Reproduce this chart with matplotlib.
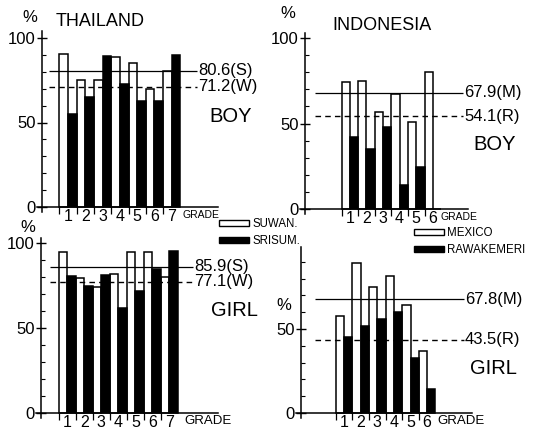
import numpy as np
import matplotlib.pyplot as plt
from matplotlib.patches import Patch

plt.rcParams['font.family'] = ['Liberation Sans', 'DejaVu Sans']

W, H = 540, 433

grades_th = [1, 2, 3, 4, 5, 6, 7]
grades_id = [1, 2, 3, 4, 5, 6]

# Thailand (% per grade)
suwan_boy = [90.5, 75.0, 75.0, 89.0, 85.0, 70.0, 80.5]
srisum_boy = [55.0, 65.0, 89.5, 73.0, 63.0, 62.5, 90.0]
suwan_girl = [94.5, 79.5, 74.0, 81.5, 94.5, 94.5, 80.0]
srisum_girl = [80.5, 74.5, 81.0, 62.0, 72.0, 84.5, 95.5]

# Indonesia (% per grade)
mexico_boy = [74.0, 75.0, 56.5, 67.5, 51.0, 80.0]
rawak_boy = [42.0, 35.0, 48.0, 14.0, 24.5, 0.0]
mexico_girl = [58.0, 89.5, 75.0, 81.5, 64.0, 37.0]
rawak_girl = [45.5, 52.0, 56.0, 60.0, 33.0, 14.0]

# mean lines (solid, dashed) and their tags
mean_th_boy = [80.6, 71.2]
mean_th_girl = [85.9, 77.1]
mean_id_boy = [67.9, 54.1]
mean_id_girl = [67.8, 43.5]
tags_th = ['S', 'W']
tags_id = ['M', 'R']

fig = plt.figure(figsize=(5.4, 4.33), dpi=100)


def ftext(x, y, s, **kw):
    # text placed in pixel coordinates of the figure
    fig.text(x / W, 1 - y / H, s, **kw)


def panel(x0, y0, bw, ys, offset, grades, white, black, means, tags,
          line_from, line_to, axis_end, grade_x, grade_fs, yt, ytop):
    padl, padr, padb, padt = 45, 235, 25, 190
    ax = fig.add_axes([(x0 - padl) / W, (H - y0 - padb) / H,
                       (padl + padr) / W, (padb + padt) / H])
    ax.patch.set_visible(False)
    ax.set_xlim(-padl / bw, padr / bw)
    ax.set_ylim(-padb / ys, padt / ys)

    g = np.array(grades)
    left = offset + 2 * (g - 1)
    ax.bar(left, white, width=1, align='edge', facecolor='white',
           edgecolor='black', lw=1.1, zorder=2)
    ax.bar(left + 1, black, width=1, align='edge', facecolor='black',
           edgecolor='black', lw=1.1, zorder=3)

    ax.hlines(means[0], line_from, line_to, color='black', lw=0.9, zorder=4)
    ax.hlines(means[1], line_from, line_to, color='black', lw=1.0,
              linestyles=(0, (4, 3)), zorder=4)
    for m, t in zip(means, tags):
        ax.text(line_to + 0.15, m, f'{m}({t})', va='center', ha='left',
                fontsize=12)

    for s in ['top', 'right']:
        ax.spines[s].set_visible(False)
    ax.spines['left'].set_position(('data', 0))
    ax.spines['bottom'].set_position(('data', 0))
    ax.spines['left'].set_bounds(-3, ytop)
    ax.spines['bottom'].set_bounds(-0.6, axis_end)
    ax.spines['left'].set_linewidth(1.1)
    ax.spines['bottom'].set_linewidth(1.1)

    ax.set_yticks(yt)
    ax.set_yticklabels([str(v) for v in yt], fontsize=12)
    ax.set_yticks([v for v in range(10, 100, 10) if v != 50], minor=True)
    ax.tick_params(axis='y', which='major', direction='inout', length=7,
                   width=1, pad=1)
    ax.tick_params(axis='y', which='minor', direction='in', length=3,
                   width=0.8)

    ax.set_xticks(left + 1)
    ax.set_xticklabels([str(v) for v in grades], fontsize=11.5)
    ax.set_xticks(left, minor=True)
    ax.tick_params(axis='x', which='major', length=0, pad=1.5)
    ax.tick_params(axis='x', which='minor', direction='out', length=5,
                   width=0.9)

    ax.text(grade_x, -2.5 / ys, 'GRADE', ha='left', va='top',
            fontsize=grade_fs)
    return ax


# THAILAND boy
panel(42, 207, 8.65, 1.69, 2.0, grades_th, suwan_boy, srisum_boy,
      mean_th_boy, tags_th, 0.8, 17.9, 20.3, 16.3, 7.5, [0, 50, 100], 104)
# INDONESIA boy
panel(305, 209, 8.3, 1.71, 4.4, grades_id, mexico_boy, rawak_boy,
      mean_id_boy, tags_id, 1.2, 19.0, 19.6, 16.3, 7.5, [0, 50, 100], 103)
# THAILAND girl
panel(41, 413, 8.5, 1.70, 2.1, grades_th, suwan_girl, srisum_girl,
      mean_th_girl, tags_th, 1.06, 17.9, 20.8, 16.9, 9.5, [0, 50, 100], 103)
# INDONESIA girl
panel(301, 413, 8.3, 1.68, 4.2, grades_id, mexico_girl, rawak_girl,
      mean_id_girl, tags_id, 1.7, 19.6, 20.6, 16.4, 9.5, [0, 50], 99)

# titles, % signs and sex labels
ftext(56, 22, 'THAILAND', fontsize=13, va='center', ha='left')
ftext(332, 25, 'INDONESIA', fontsize=13, va='center', ha='left')
ftext(30, 18, '%', fontsize=12, va='center', ha='center')
ftext(288, 14, '%', fontsize=12, va='center', ha='center')
ftext(28, 228, '%', fontsize=12, va='center', ha='center')
ftext(284, 306, '%', fontsize=12, va='center', ha='center')
ftext(231, 116, 'BOY', fontsize=14.5, va='center', ha='center')
ftext(495, 145, 'BOY', fontsize=14.5, va='center', ha='center')
ftext(234, 310, 'GIRL', fontsize=14.5, va='center', ha='center')
ftext(493, 368, 'GIRL', fontsize=14.5, va='center', ha='center')

# legends
leg_kw = dict(loc='upper left', frameon=False, fontsize=8.3,
              handlelength=2.6, handleheight=0.5, handletextpad=0.3,
              labelspacing=0.45, borderpad=0, borderaxespad=0)
fig.legend(handles=[Patch(facecolor='white', edgecolor='black', lw=1),
                    Patch(facecolor='black', edgecolor='black')],
           labels=['SUWAN.', 'SRISUM.'],
           bbox_to_anchor=(219 / W, 1 - 218 / H), **leg_kw)
fig.legend(handles=[Patch(facecolor='white', edgecolor='black', lw=1),
                    Patch(facecolor='black', edgecolor='black')],
           labels=['MEXICO', 'RAWAKEMERI'],
           bbox_to_anchor=(414 / W, 1 - 227 / H), **leg_kw)

fig.savefig('out.png', dpi=100)
